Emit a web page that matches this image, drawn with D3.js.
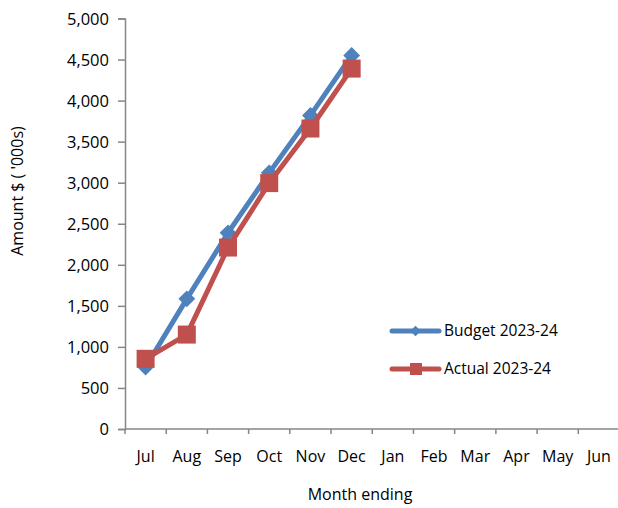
<!DOCTYPE html>
<html>
<head>
<meta charset="utf-8">
<script src="https://cdn.jsdelivr.net/npm/d3@7"></script>
<style>
  body { margin: 0; background: #fff; }
  text { font-family: "Open Sans", sans-serif; fill: #000; }
</style>
</head>
<body>
<svg id="chart"></svg>
<script>
const width = 618, height = 508;

// data
const months = ["Jul", "Aug", "Sep", "Oct", "Nov", "Dec", "Jan", "Feb", "Mar", "Apr", "May", "Jun"];
const budget = [755, 1585, 2390, 3120, 3820, 4550];
const actual = [855, 1150, 2210, 2995, 3660, 4390];
const yTicks = [0, 500, 1000, 1500, 2000, 2500, 3000, 3500, 4000, 4500, 5000];
const seriesNames = ["Budget 2023-24", "Actual 2023-24"];

const margin = { left: 125, right: -1.5, top: 18.5, bottom: 79 };

const svg = d3.select("#chart")
    .attr("width", width)
    .attr("height", height);

const x = d3.scaleBand()
    .domain(months)
    .range([margin.left, width - margin.right]);

const y = d3.scaleLinear()
    .domain([0, 5000])
    .range([height - margin.bottom, margin.top]);

const axisColor = "#868686";

// y axis
const yAxis = svg.append("g")
    .attr("transform", `translate(${margin.left},0)`)
    .call(d3.axisLeft(y).tickValues(yTicks).tickFormat(d3.format(",")).tickSize(7).tickPadding(9));
yAxis.select(".domain").attr("stroke", axisColor).attr("stroke-width", 1.5);
yAxis.selectAll(".tick line").attr("stroke", axisColor).attr("stroke-width", 1.5);
yAxis.selectAll("text").style("font-size", "16.5px").attr("dy", "0.35em");

// x axis: ticks at category boundaries
const xAxisY = y(0);
const xg = svg.append("g");
xg.append("line")
    .attr("x1", margin.left).attr("x2", width + 2)
    .attr("y1", xAxisY).attr("y2", xAxisY)
    .attr("stroke", axisColor).attr("stroke-width", 1.5);
xg.selectAll("line.tick")
    .data(months)
    .join("line")
    .attr("class", "tick")
    .attr("x1", d => x(d)).attr("x2", d => x(d))
    .attr("y1", xAxisY).attr("y2", xAxisY + 5)
    .attr("stroke", axisColor).attr("stroke-width", 1.5);
xg.selectAll("text")
    .data(months)
    .join("text")
    .attr("x", d => x(d) + x.bandwidth() / 2)
    .attr("y", 462)
    .attr("text-anchor", "middle")
    .style("font-size", "16px")
    .text(d => d);

// axis titles
svg.append("text")
    .attr("x", 360).attr("y", 500)
    .attr("text-anchor", "middle")
    .style("font-size", "16px")
    .text("Month ending");

svg.append("text")
    .attr("transform", "translate(23,191) rotate(-90)")
    .attr("text-anchor", "middle")
    .style("font-size", "16px")
    .text("Amount $ ( '000s)");

const cx = (d, i) => x(months[i]) + x.bandwidth() / 2;
const line = d3.line().x((d, i) => cx(d, i)).y(d => y(d));

// budget series
svg.append("path")
    .datum(budget)
    .attr("d", line)
    .attr("fill", "none")
    .attr("stroke", "#4F81BD")
    .attr("stroke-width", 5)
    .attr("stroke-linejoin", "round");
const diamond = d3.symbol().type(d3.symbolDiamond2).size(180);
svg.selectAll("path.budget")
    .data(budget)
    .join("path")
    .attr("class", "budget")
    .attr("d", diamond)
    .attr("transform", (d, i) => `translate(${cx(d, i)},${y(d)})`)
    .attr("fill", "#4F81BD");

// actual series
svg.append("path")
    .datum(actual)
    .attr("d", line)
    .attr("fill", "none")
    .attr("stroke", "#C0504D")
    .attr("stroke-width", 5)
    .attr("stroke-linejoin", "round");
svg.selectAll("rect.actual")
    .data(actual)
    .join("rect")
    .attr("class", "actual")
    .attr("x", (d, i) => cx(d, i) - 9)
    .attr("y", d => y(d) - 9)
    .attr("width", 18)
    .attr("height", 18)
    .attr("fill", "#C0504D");

// legend
const legend = svg.append("g");
const legendY = [331, 369];
const colors = ["#4F81BD", "#C0504D"];
seriesNames.forEach((name, i) => {
    const g = legend.append("g").attr("transform", `translate(0,${legendY[i]})`);
    g.append("line")
        .attr("x1", 392).attr("x2", 439)
        .attr("stroke", colors[i]).attr("stroke-width", 5)
        .attr("stroke-linecap", "round");
    if (i === 0) {
        g.append("path")
            .attr("d", d3.symbol().type(d3.symbolDiamond2).size(70))
            .attr("transform", "translate(415.5,0)")
            .attr("fill", colors[i]);
    } else {
        g.append("rect")
            .attr("x", 410).attr("y", -6).attr("width", 12).attr("height", 12)
            .attr("fill", colors[i]);
    }
    g.append("text")
        .attr("x", 444).attr("y", 0).attr("dy", "0.35em")
        .style("font-size", "15.5px")
        .text(name);
});
</script>
</body>
</html>
